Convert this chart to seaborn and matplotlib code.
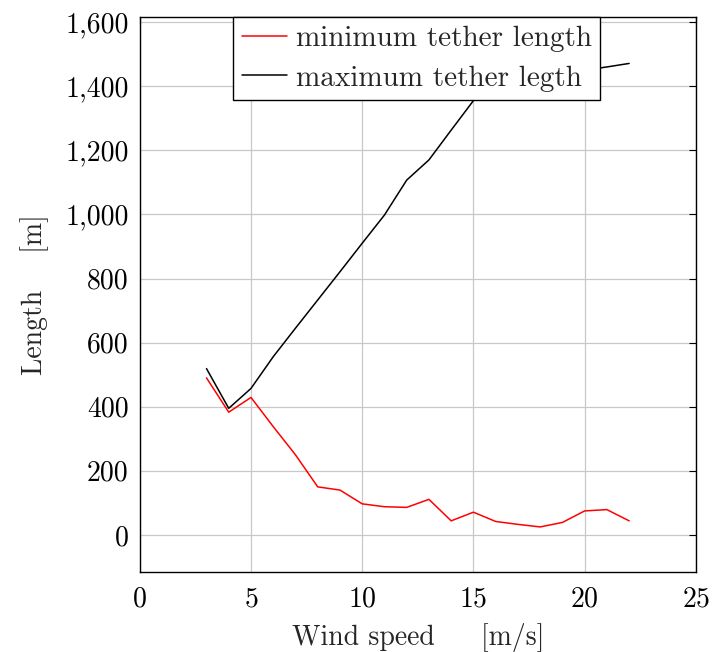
import matplotlib
matplotlib.use("Agg")
import matplotlib.pyplot as plt
import matplotlib.ticker as mticker
import seaborn as sns
import pandas as pd

wind_speed = [3, 4, 5, 6, 7, 8, 9, 10, 11, 12, 13, 14, 15, 16, 17, 18, 19, 20, 21, 22]
min_tether = [490, 383, 429, 338, 250, 150, 140, 97, 88, 86, 111, 44, 71, 42, 33, 25, 39, 75, 79, 44]
max_tether = [519, 395, 457, 556, 645, 733, 821, 910, 998, 1107, 1170, 1263, 1355, 1400, 1415, 1428, 1440, 1450, 1460, 1471]
series_names = ["minimum tether length", "maximum tether legth"]
x_ticks = [0, 5, 10, 15, 20, 25]
y_ticks = [0, 200, 400, 600, 800, 1000, 1200, 1400, 1600]

sns.set_style("white")
plt.rcParams["font.family"] = ["cmr10", "DejaVu Serif"]
plt.rcParams["mathtext.fontset"] = "cm"
plt.rcParams["axes.formatter.use_mathtext"] = True

df = pd.DataFrame({
    "Wind speed": wind_speed * 2,
    "Length": min_tether + max_tether,
    "series": [series_names[0]] * len(wind_speed) + [series_names[1]] * len(wind_speed),
})

fig = plt.figure(figsize=(7.13, 6.52), dpi=100)
ax = fig.add_axes([0.196, 0.123, 0.780, 0.851])

sns.lineplot(data=df, x="Wind speed", y="Length", hue="series",
             palette={series_names[0]: "#ff0000", series_names[1]: "#000000"},
             linewidth=1.1, ax=ax, legend=True)

ax.set_xlim(0, 25)
ax.set_ylim(-115, 1616)
ax.set_xticks(x_ticks)
ax.set_yticks(y_ticks)
ax.yaxis.set_major_formatter(mticker.FuncFormatter(lambda v, p: f"{v:,.0f}"))
ax.grid(True, color="#c8c8c8", linewidth=0.9)
ax.set_axisbelow(True)
for s in ax.spines.values():
    s.set_color("black")
    s.set_linewidth(1.0)
ax.tick_params(direction="in", length=5, width=0.8, top=True, right=True,
               labelsize=20, colors="black", pad=8)
ax.tick_params(axis="x", pad=10)

ax.set_xlabel("Wind speed     [m/s]", fontsize=20, labelpad=8)
ax.set_ylabel("Length    [m]", fontsize=20, labelpad=12)

leg = ax.legend(loc="upper center", bbox_to_anchor=(0.498, 1.0), borderaxespad=0,
                fontsize=21, frameon=True, fancybox=False, framealpha=1,
                edgecolor="black", handlelength=1.55, handletextpad=0.3,
                borderpad=0.3, labelspacing=0.45, title=None)
leg.get_frame().set_linewidth(1.0)

fig.savefig("out.png", dpi=100)
